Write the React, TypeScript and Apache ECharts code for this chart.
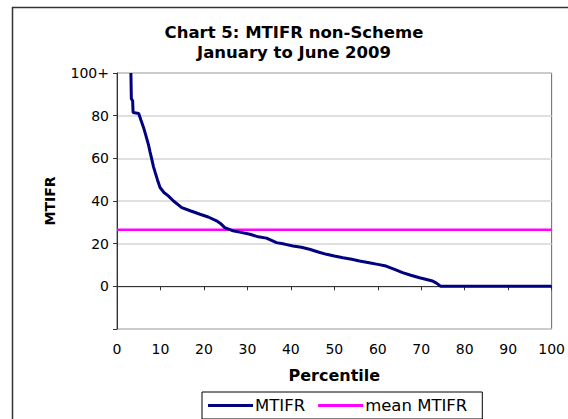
import React, { useEffect, useRef } from "react";
import * as echarts from "echarts";

const percentiles = [3.2, 3.3, 3.6, 3.7, 5.0, 5.5, 6.1, 6.6, 7.2, 7.6, 8.0, 8.4, 8.8, 9.3, 9.9, 10.8, 11.8, 13.0, 14.9, 17.0, 19.1, 21.0, 22.9, 23.8, 24.8, 26.7, 28.5, 30.6, 32.5, 34.4, 36.7, 38.5, 40.5, 42.4, 44.3, 46.3, 48.2, 50.0, 52.0, 54.0, 55.8, 58.0, 60.0, 61.9, 64.0, 65.7, 67.6, 69.6, 71.0, 72.6, 73.5, 74.5, 100];
const mtifr = [100, 88, 87, 81.5, 81, 78, 74.5, 71, 66.7, 63, 59.6, 56, 53.3, 50, 46.3, 44, 42.4, 40, 36.9, 35.3, 33.8, 32.5, 30.7, 29.5, 27.5, 26, 25.3, 24.4, 23.2, 22.6, 20.5, 19.8, 18.9, 18.3, 17.4, 16.1, 15.0, 14.2, 13.4, 12.7, 11.9, 11.1, 10.3, 9.5, 7.8, 6.4, 5.2, 4.0, 3.3, 2.5, 1.5, 0, 0];
const meanMtifr = 26.5;
const meanRange = [0, 100];
const yTickLabels: Record<number, string> = { [-20]: "", 0: "0", 20: "20", 40: "40", 60: "60", 80: "80", 100: "100+" };

const FONT = "DejaVu Sans";

export default function App() {
  const ref = useRef<HTMLDivElement>(null);
  useEffect(() => {
    if (!ref.current) return;
    const chart = echarts.init(ref.current, null, { renderer: "svg" });
    chart.setOption({
      animation: false,
      backgroundColor: "#ffffff",
      textStyle: { fontFamily: FONT },
      title: {
        text: "Chart 5: MTIFR non-Scheme\nJanuary to June 2009",
        left: 289,
        top: 17,
        textAlign: "center",
        textStyle: { fontFamily: FONT, fontSize: 16.5, fontWeight: "bold", color: "#000", lineHeight: 20 },
      },
      graphic: [
        {
          type: "line",
          shape: { x1: 12, y1: 7.5, x2: 568, y2: 7.5 },
          style: { stroke: "#333", lineWidth: 1.5 },
          silent: true,
        },
        {
          type: "line",
          shape: { x1: 12.5, y1: 7, x2: 12.5, y2: 419 },
          style: { stroke: "#333", lineWidth: 1.5 },
          silent: true,
        },
      ],
      grid: {
        left: 117,
        right: 15,
        top: 73,
        bottom: 90,
        show: true,
        borderColor: "#666",
        borderWidth: 1,
      },
      legend: {
        left: 202,
        top: 392,
        padding: [5, 15, 5, 6],
        borderColor: "#000",
        borderWidth: 1,
        itemWidth: 45,
        itemHeight: 3,
        itemGap: 13,
        icon: "rect",
        textStyle: { fontFamily: FONT, fontSize: 16.5, color: "#000", padding: [0, 0, 0, -3] },
        data: ["MTIFR", "mean MTIFR"],
      },
      xAxis: {
        type: "value",
        min: 0,
        max: 100,
        interval: 10,
        name: "Percentile",
        nameLocation: "middle",
        nameGap: 38,
        nameTextStyle: { fontFamily: FONT, fontSize: 16, fontWeight: "bold", color: "#000" },
        axisLine: { show: true, lineStyle: { color: "#333", width: 1 } },
        axisTick: { show: true, length: 4, lineStyle: { color: "#333" } },
        axisLabel: { fontFamily: FONT, fontSize: 14, color: "#000", margin: 13 },
        splitLine: { show: false },
      },
      yAxis: {
        type: "value",
        min: -20,
        max: 100,
        interval: 20,
        name: "MTIFR",
        nameLocation: "middle",
        nameGap: 60,
        nameRotate: 90,
        nameTextStyle: { fontFamily: FONT, fontSize: 14, fontWeight: "bold", color: "#000" },
        axisLine: { show: true, lineStyle: { color: "#333", width: 1 } },
        axisTick: { show: true, length: 4, lineStyle: { color: "#333" } },
        axisLabel: {
          fontFamily: FONT,
          fontSize: 14,
          color: "#000",
          margin: 8,
          formatter: (v: number) => (yTickLabels[v] !== undefined ? yTickLabels[v] : String(v)),
        },
        splitLine: { show: true, lineStyle: { color: "#d4d4d4", width: 1.5 } },
      },
      series: [
        {
          name: "MTIFR",
          type: "line",
          data: percentiles.map((p, i) => [p, mtifr[i]]),
          showSymbol: false,
          symbol: "none",
          lineStyle: { color: "#000080", width: 3 },
          itemStyle: { color: "#000080" },
          z: 3,
        },
        {
          name: "mean MTIFR",
          type: "line",
          data: meanRange.map((p) => [p, meanMtifr]),
          showSymbol: false,
          symbol: "none",
          lineStyle: { color: "#ff00ff", width: 2.5 },
          itemStyle: { color: "#ff00ff" },
          z: 2,
        },
      ],
    });
    return () => chart.dispose();
  }, []);
  return (
    <div
      ref={ref}
      style={{ position: "absolute", left: 0, top: 0, width: 568, height: 419 }}
    />
  );
}
